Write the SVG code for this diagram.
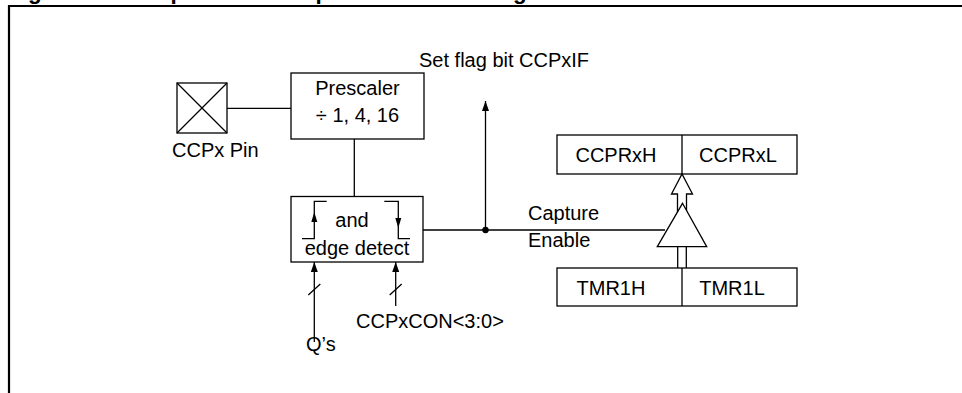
<svg xmlns="http://www.w3.org/2000/svg" width="962" height="393" viewBox="0 0 962 393">
<defs>
<style>
.ln{stroke:#000;stroke-width:1.3;fill:none}
.bx{stroke:#000;stroke-width:1.3;fill:#fff}
.t{font-family:"Liberation Sans",Arial,sans-serif;font-size:20px;fill:#000}
.title{font-family:"Liberation Sans",Arial,sans-serif;font-size:22.5px;font-weight:bold;fill:#000}
</style>
<marker id="ah" viewBox="0 0 10 10" refX="10" refY="5" markerWidth="10" markerHeight="10" markerUnits="userSpaceOnUse" orient="auto">
<path d="M0,1.5 L10,5 L0,8.5 Z" fill="#000"/>
</marker>
</defs>
<rect width="962" height="393" fill="#fff"/>
<text class="title" x="8" y="-1.5">Figure 15-1: Capture Mode Operation Block Diagram</text>
<path d="M9,393 V6 H962" stroke="#000" stroke-width="2.2" fill="none"/>

<g id="pin">
<rect class="bx" x="177" y="83" width="50" height="50"/>
<path class="ln" d="M177,83 L227,133 M227,83 L177,133"/>
<text class="t" x="172" y="157">CCPx Pin</text>
</g>

<g id="prescaler">
<rect class="bx" x="291" y="73" width="133" height="66"/>
<text class="t" x="357.5" y="95" text-anchor="middle">Prescaler</text>
<text class="t" x="357.5" y="122" text-anchor="middle">÷ 1, 4, 16</text>
</g>

<g id="edge">
<rect class="bx" x="291" y="196.5" width="132" height="65.5"/>
<path class="ln" d="M302,238.7 H314.3 V201.3 H326.7"/>
<path class="ln" d="M384.3,201.3 H398.3 V238.7 H410"/>
<path d="M314.3,212 L311.3,222 L317.3,222 Z" fill="#000"/>
<path d="M398.3,228 L395.3,218 L401.3,218 Z" fill="#000"/>
<text class="t" x="352" y="227" text-anchor="middle">and</text>
<text class="t" x="357" y="255" text-anchor="middle">edge detect</text>
</g>

<g id="ccpr">
<rect class="bx" x="557" y="135" width="240" height="39"/>
<path class="ln" d="M682,135 V174"/>
<text class="t" x="616" y="162" text-anchor="middle">CCPRxH</text>
<text class="t" x="738" y="162" text-anchor="middle">CCPRxL</text>
</g>

<g id="tmr">
<rect class="bx" x="557" y="268" width="240" height="38"/>
<path class="ln" d="M682,268 V306"/>
<text class="t" x="611" y="295" text-anchor="middle">TMR1H</text>
<text class="t" x="732" y="295" text-anchor="middle">TMR1L</text>
</g>

<g id="gate">
<path class="bx" d="M677.5,225 V194 H671.5 L682,174 L692.5,194 H686.5 V225 Z"/>
<path class="bx" d="M682.5,203.3 L706.7,246.7 H657.3 Z"/>
</g>

<g id="labels">
<text class="t" x="419" y="66.5">Set flag bit CCPxIF</text>
<text class="t" x="528" y="220">Capture</text>
<text class="t" x="528" y="247">Enable</text>
<text class="t" x="306" y="351">Q’s</text>
<text class="t" x="356" y="328">CCPxCON&lt;3:0&gt;</text>
</g>

<g id="connectors">
<path class="ln" d="M227,108.3 H291"/>
<path class="ln" d="M354.3,139 V196.5"/>
<path class="ln" d="M423,230 H665"/>
<circle cx="485.5" cy="230" r="3.2" fill="#000"/>
<path class="ln" d="M485.5,230 V101" marker-end="url(#ah)"/>
<path class="ln" d="M677.7,246.7 V268 M686.3,246.7 V268"/>
<path class="ln" d="M314.3,342 V262" marker-end="url(#ah)"/>
<path class="ln" d="M395.7,306 V262" marker-end="url(#ah)"/>
<path class="ln" d="M308.3,295 L320.3,284 M389.7,295 L401.7,284"/>
</g>
</svg>
